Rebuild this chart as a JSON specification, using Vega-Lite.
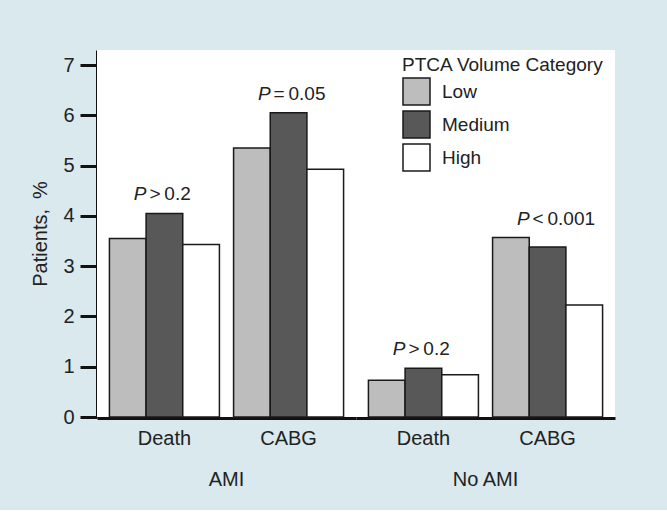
{
  "$schema": "https://vega.github.io/schema/vega-lite/v6.json",
  "background": "#d9e9ee",
  "padding": {"left": 30, "top": 50, "right": 52, "bottom": 20},
  "config": {
    "font": "Liberation Sans",
    "view": {"fill": "white", "stroke": null},
    "text": {"color": "#222222"}
  },
  "data": {
    "values": [
      {"group": "AMI", "outcome": "Death", "volume": "Low", "pct": 3.55, "p": ">\u20090.2"},
      {"group": "AMI", "outcome": "Death", "volume": "Medium", "pct": 4.05, "p": ">\u20090.2"},
      {"group": "AMI", "outcome": "Death", "volume": "High", "pct": 3.43, "p": ">\u20090.2"},
      {"group": "AMI", "outcome": "CABG", "volume": "Low", "pct": 5.35, "p": "=\u20090.05"},
      {"group": "AMI", "outcome": "CABG", "volume": "Medium", "pct": 6.05, "p": "=\u20090.05"},
      {"group": "AMI", "outcome": "CABG", "volume": "High", "pct": 4.93, "p": "=\u20090.05"},
      {"group": "No AMI", "outcome": "Death", "volume": "Low", "pct": 0.73, "p": ">\u20090.2"},
      {"group": "No AMI", "outcome": "Death", "volume": "Medium", "pct": 0.97, "p": ">\u20090.2"},
      {"group": "No AMI", "outcome": "Death", "volume": "High", "pct": 0.84, "p": ">\u20090.2"},
      {"group": "No AMI", "outcome": "CABG", "volume": "Low", "pct": 3.57, "p": "<\u20090.001"},
      {"group": "No AMI", "outcome": "CABG", "volume": "Medium", "pct": 3.38, "p": "<\u20090.001"},
      {"group": "No AMI", "outcome": "CABG", "volume": "High", "pct": 2.23, "p": "<\u20090.001"}
    ]
  },
  "facet": {
    "column": {
      "field": "group", "type": "nominal", "sort": ["AMI", "No AMI"], "title": null,
      "header": {"title": null, "labelOrient": "bottom", "labelFontSize": 20, "labelColor": "#222222", "labelPadding": 22, "labelFont": "Liberation Sans"}
    }
  },
  "spacing": 0,
  "resolve": {"scale": {"x": "shared"}},
  "spec": {
    "width": 259,
    "height": 367,
    "layer": [
      {
        "mark": {"type": "bar", "stroke": "#1a1a1a", "strokeWidth": 1.5},
        "encoding": {
          "x": {
            "field": "outcome", "type": "nominal", "sort": ["Death", "CABG"],
            "scale": {"paddingInner": 0.114, "paddingOuter": 0.1},
            "axis": {"title": null, "labelAngle": 0, "ticks": false, "domainColor": "#111111", "domainWidth": 3, "labelFontSize": 20, "labelColor": "#222222", "labelPadding": 10}
          },
          "xOffset": {"field": "volume", "type": "nominal", "sort": ["Low", "Medium", "High"], "scale": {"paddingInner": 0, "paddingOuter": 0}},
          "y": {
            "field": "pct", "type": "quantitative",
            "scale": {"domain": [0, 7.3], "nice": false},
            "axis": {"title": "Patients,\u2002%", "values": [0, 1, 2, 3, 4, 5, 6, 7], "grid": false, "domainColor": "#111111", "domainWidth": 3, "tickColor": "#111111", "tickWidth": 3, "tickSize": 17, "labelFontSize": 20, "labelColor": "#222222", "labelPadding": 6, "titleFontSize": 20, "titleFontWeight": "normal", "titleColor": "#222222", "titlePadding": 12}
          },
          "fill": {
            "field": "volume", "type": "nominal",
            "scale": {"domain": ["Low", "Medium", "High"], "range": ["#bdbdbd", "#585858", "#ffffff"]},
            "legend": {"title": "PTCA Volume Category", "orient": "none", "legendX": 305, "legendY": 6, "titleFontSize": 19, "titleFontWeight": "normal", "titleColor": "#222222", "titleLimit": 400, "labelLimit": 300, "labelFontSize": 19, "labelColor": "#222222", "symbolType": "square", "symbolSize": 729, "symbolStrokeColor": "#1a1a1a", "symbolStrokeWidth": 1.5, "symbolOpacity": 1, "rowPadding": 0, "labelOffset": 11, "titlePadding": 2}
          }
        }
      },
      {
        "mark": {"type": "text", "text": "P", "fontStyle": "italic", "align": "right", "baseline": "alphabetic", "dx": -18, "dy": -13, "fontSize": 19},
        "encoding": {
          "x": {"field": "outcome", "type": "nominal", "sort": ["Death", "CABG"]},
          "y": {"aggregate": "max", "field": "pct", "type": "quantitative"}
        }
      },
      {
        "mark": {"type": "text", "align": "left", "baseline": "alphabetic", "dx": -15, "dy": -13, "fontSize": 19},
        "encoding": {
          "x": {"field": "outcome", "type": "nominal", "sort": ["Death", "CABG"]},
          "y": {"aggregate": "max", "field": "pct", "type": "quantitative"},
          "text": {"field": "p"}
        }
      }
    ]
  }
}
